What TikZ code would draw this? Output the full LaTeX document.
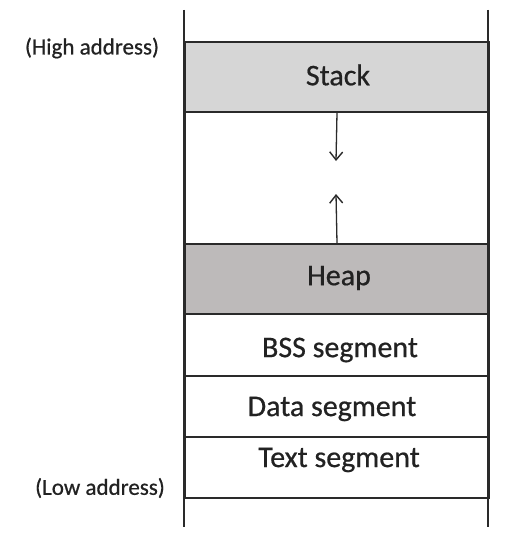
\documentclass[tikz,border=0pt]{standalone}
\usepackage{fontspec}
\setmainfont{Carlito}[FakeBold=0.6]
\usetikzlibrary{arrows.meta}
\definecolor{stackfill}{HTML}{D6D6D6}
\definecolor{heapfill}{HTML}{BDBABA}
\definecolor{linecol}{HTML}{2A2A2A}
\definecolor{txtcol}{HTML}{222222}
\begin{document}
\begin{tikzpicture}[x=1pt,y=-1pt,
  seg/.style={draw=linecol,line width=2pt,minimum width=304pt,inner sep=0pt,anchor=north west},
  segtext/.style={font=\fontsize{30}{33}\selectfont,text=txtcol,inner sep=0pt},
  addr/.style={font=\fontsize{23}{26}\selectfont,text=txtcol,inner sep=0pt},
  growarrow/.style={draw=linecol,line width=1.3pt,-{Straight Barb[length=8pt,width=13pt,line width=1.4pt]}}]
\useasboundingbox (0,0) rectangle (520,559);
\fill[white] (0,0) rectangle (520,559);
% segments
\node[seg,fill=stackfill,minimum height=70pt] (stack) at (184,41) {};
\node[seg,fill=white,minimum height=132pt] (gap) at (184,111) {};
\node[seg,fill=heapfill,minimum height=70pt] (heap) at (184,243) {};
\node[seg,fill=white,minimum height=62pt] (bss) at (184,313) {};
\node[seg,fill=white,minimum height=61pt] (data) at (184,375) {};
\node[seg,fill=white,minimum height=61pt] (text) at (184,436) {};
% verticals
\coordinate (lt) at (184,10);
\coordinate (lb) at (184,527);
\coordinate (rt) at (488,10);
\coordinate (rb) at (488,527);
\draw[linecol,line width=2.4pt] (lt) -- (lb);
\draw[linecol,line width=2.4pt] (rt) -- (rb);
% labels
\node[segtext] (stacklbl) at (338,75) {Stack};
\node[segtext] (heaplbl) at (339,278) {Heap};
\node[segtext] (bsslbl) at (340,350) {BSS segment};
\node[segtext] (datalbl) at (332,409) {Data segment};
\node[segtext] (textlbl) at (339,460) {Text segment};
\node[addr] (high) at (92,48) {(High address)};
\node[addr] (low) at (100,488) {(Low address)};
% arrows
\coordinate (downend) at (336,161);
\coordinate (upend) at (336,194);
\draw[growarrow] (stack.south) -- (downend);
\draw[growarrow] (heap.north) -- (upend);
\end{tikzpicture}
\end{document}
